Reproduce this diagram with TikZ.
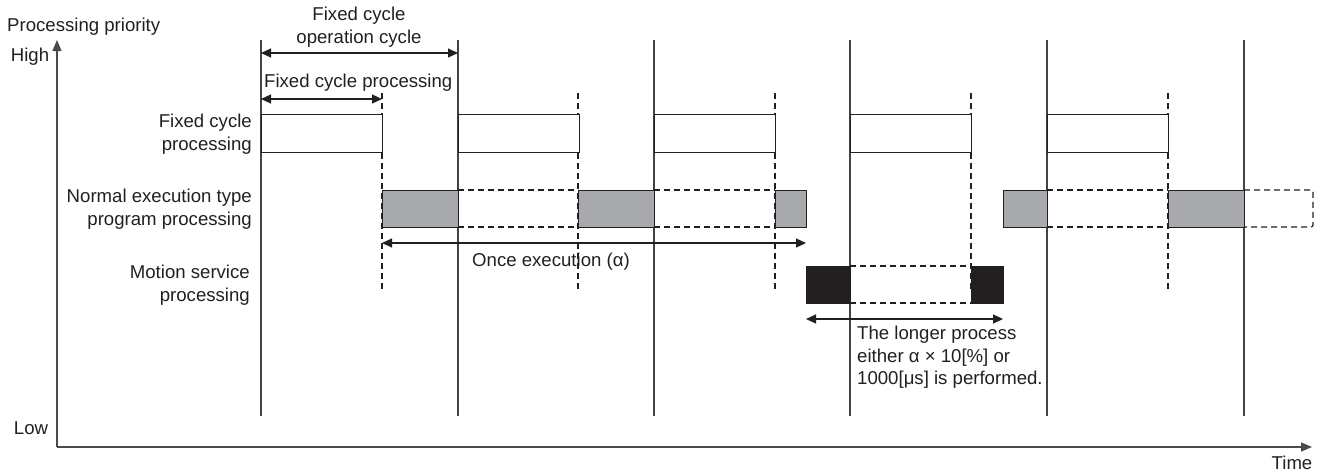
\documentclass[tikz,border=0pt]{standalone}
\usepackage{fontspec}
\setmainfont{Liberation Sans}
\usetikzlibrary{arrows.meta}
\definecolor{ink}{HTML}{231F20}
\definecolor{axisc}{HTML}{4A4A4A}
\definecolor{grayfill}{HTML}{A7A9AC}
\tikzset{
  lbl/.style={inner sep=0pt, font=\fontsize{18.6}{22.5}\selectfont, text=ink},
  fixbox/.style={draw=ink, line width=1.3pt, fill=white, inner sep=0pt, anchor=north west, minimum height=38pt},
  graybox/.style={draw=ink, line width=1.3pt, fill=grayfill, inner sep=0pt, anchor=north west, minimum height=37pt},
  blackbox/.style={draw=ink, line width=1.3pt, fill=ink, inner sep=0pt, anchor=north west, minimum height=37pt},
  dashline/.style={draw=ink, line width=1.2pt, dash pattern=on 6pt off 4pt},
  cycleline/.style={draw=ink!85, line width=1.2pt},
  dimarrow/.style={draw=ink, line width=1.2pt, {Triangle[length=10pt,width=9pt]}-{Triangle[length=10pt,width=9pt]}},
  axisarrow/.style={draw=axisc, line width=1.2pt, -{Triangle[length=11pt,width=9pt]}},
}
\begin{document}
\begin{tikzpicture}[x=1pt,y=-1pt]
\useasboundingbox (0,0) rectangle (1321,472);
% axes
\coordinate (origin) at (57,447);
\coordinate (ytop) at (57,40);
\coordinate (xend) at (1312,447);
\draw[axisarrow] (origin) -- (ytop);
\draw[axisarrow] (origin) -- (xend);
% cycle lines
\foreach \x [count=\i] in {261,458,654,850,1047,1244}{
  \coordinate (st\i) at (\x,40);
  \coordinate (sb\i) at (\x,416);
  \draw[cycleline] (st\i) -- (sb\i);
}
\foreach \x [count=\i] in {382,578,775,971,1168}{
  \coordinate (dt\i) at (\x,93);
  \coordinate (db\i) at (\x,290);
  \draw[dashline] (dt\i) -- (db\i);
}
% fixed cycle boxes
\foreach \x [count=\i] in {261,458,654,850,1047}{
  \node[fixbox, minimum width=121pt] (f\i) at (\x,114) {};
}
% normal execution dashed parts
\coordinate (n1a) at (458,190); \coordinate (n1b) at (578,190);
\coordinate (n1c) at (458,227); \coordinate (n1d) at (578,227);
\coordinate (n2a) at (654,190); \coordinate (n2b) at (775,190);
\coordinate (n2c) at (654,227); \coordinate (n2d) at (775,227);
\coordinate (n3a) at (1047,190); \coordinate (n3b) at (1168,190);
\coordinate (n3c) at (1047,227); \coordinate (n3d) at (1168,227);
\draw[dashline] (n1a) -- (n1b) (n1c) -- (n1d);
\draw[dashline] (n2a) -- (n2b) (n2c) -- (n2d);
\draw[dashline] (n3a) -- (n3b) (n3c) -- (n3d);
\coordinate (n4a) at (1244,190); \coordinate (n4b) at (1313,227);
\draw[dashline, rounded corners=2pt] (n4a) -| (n4b) -- (1244,227);
% gray boxes
\node[graybox, minimum width=76pt] (g1) at (382,190) {};
\node[graybox, minimum width=76pt] (g2) at (578,190) {};
\node[graybox, minimum width=31pt] (g3) at (775,190) {};
\node[graybox, minimum width=44pt] (g4) at (1003,190) {};
\node[graybox, minimum width=76pt] (g5) at (1168,190) {};
% motion service
\coordinate (m1a) at (850,266); \coordinate (m1b) at (971,266);
\coordinate (m1c) at (850,303); \coordinate (m1d) at (971,303);
\draw[dashline] (m1a) -- (m1b) (m1c) -- (m1d);
\node[blackbox, minimum width=44pt] (k1) at (806,266) {};
\node[blackbox, minimum width=32pt] (k2) at (971,266) {};
% dimension arrows
\coordinate (a1l) at (261,53); \coordinate (a1r) at (458,53);
\coordinate (a2l) at (261,99); \coordinate (a2r) at (382,99);
\coordinate (a3l) at (382,243); \coordinate (a3r) at (806,243);
\coordinate (a4l) at (806,319); \coordinate (a4r) at (1003,319);
\draw[dimarrow] (a1l) -- (a1r);
\draw[dimarrow] (a2l) -- (a2r);
\draw[dimarrow] (a3l) -- (a3r);
\draw[dimarrow] (a4l) -- (a4r);
% labels
\node[lbl, anchor=west] (tpp) at (7,27) {Processing priority};
\node[lbl] (thigh) at (30,57) {High};
\node[lbl] (tlow) at (31,428) {Low};
\node[lbl] (ttime) at (1292,463) {Time};
\node[lbl, align=center] (tfco) at (359,27) {Fixed cycle\\operation cycle};
\node[lbl, anchor=west] (tfcp) at (264,83) {Fixed cycle processing};
\node[lbl, align=right, anchor=east] (lf) at (252,134) {Fixed cycle\\processing};
\node[lbl, align=right, anchor=east] (ln) at (252,209) {Normal execution type\\program processing};
\node[lbl, align=right, anchor=east] (lm) at (250,285) {Motion service\\processing};
\node[lbl] (tonce) at (551,262) {Once execution (α)};
\node[lbl, align=left, anchor=north west] (tlong) at (857,326) {The longer process\\either α × 10[\%] or\\1000[μs] is performed.};
\end{tikzpicture}
\end{document}
